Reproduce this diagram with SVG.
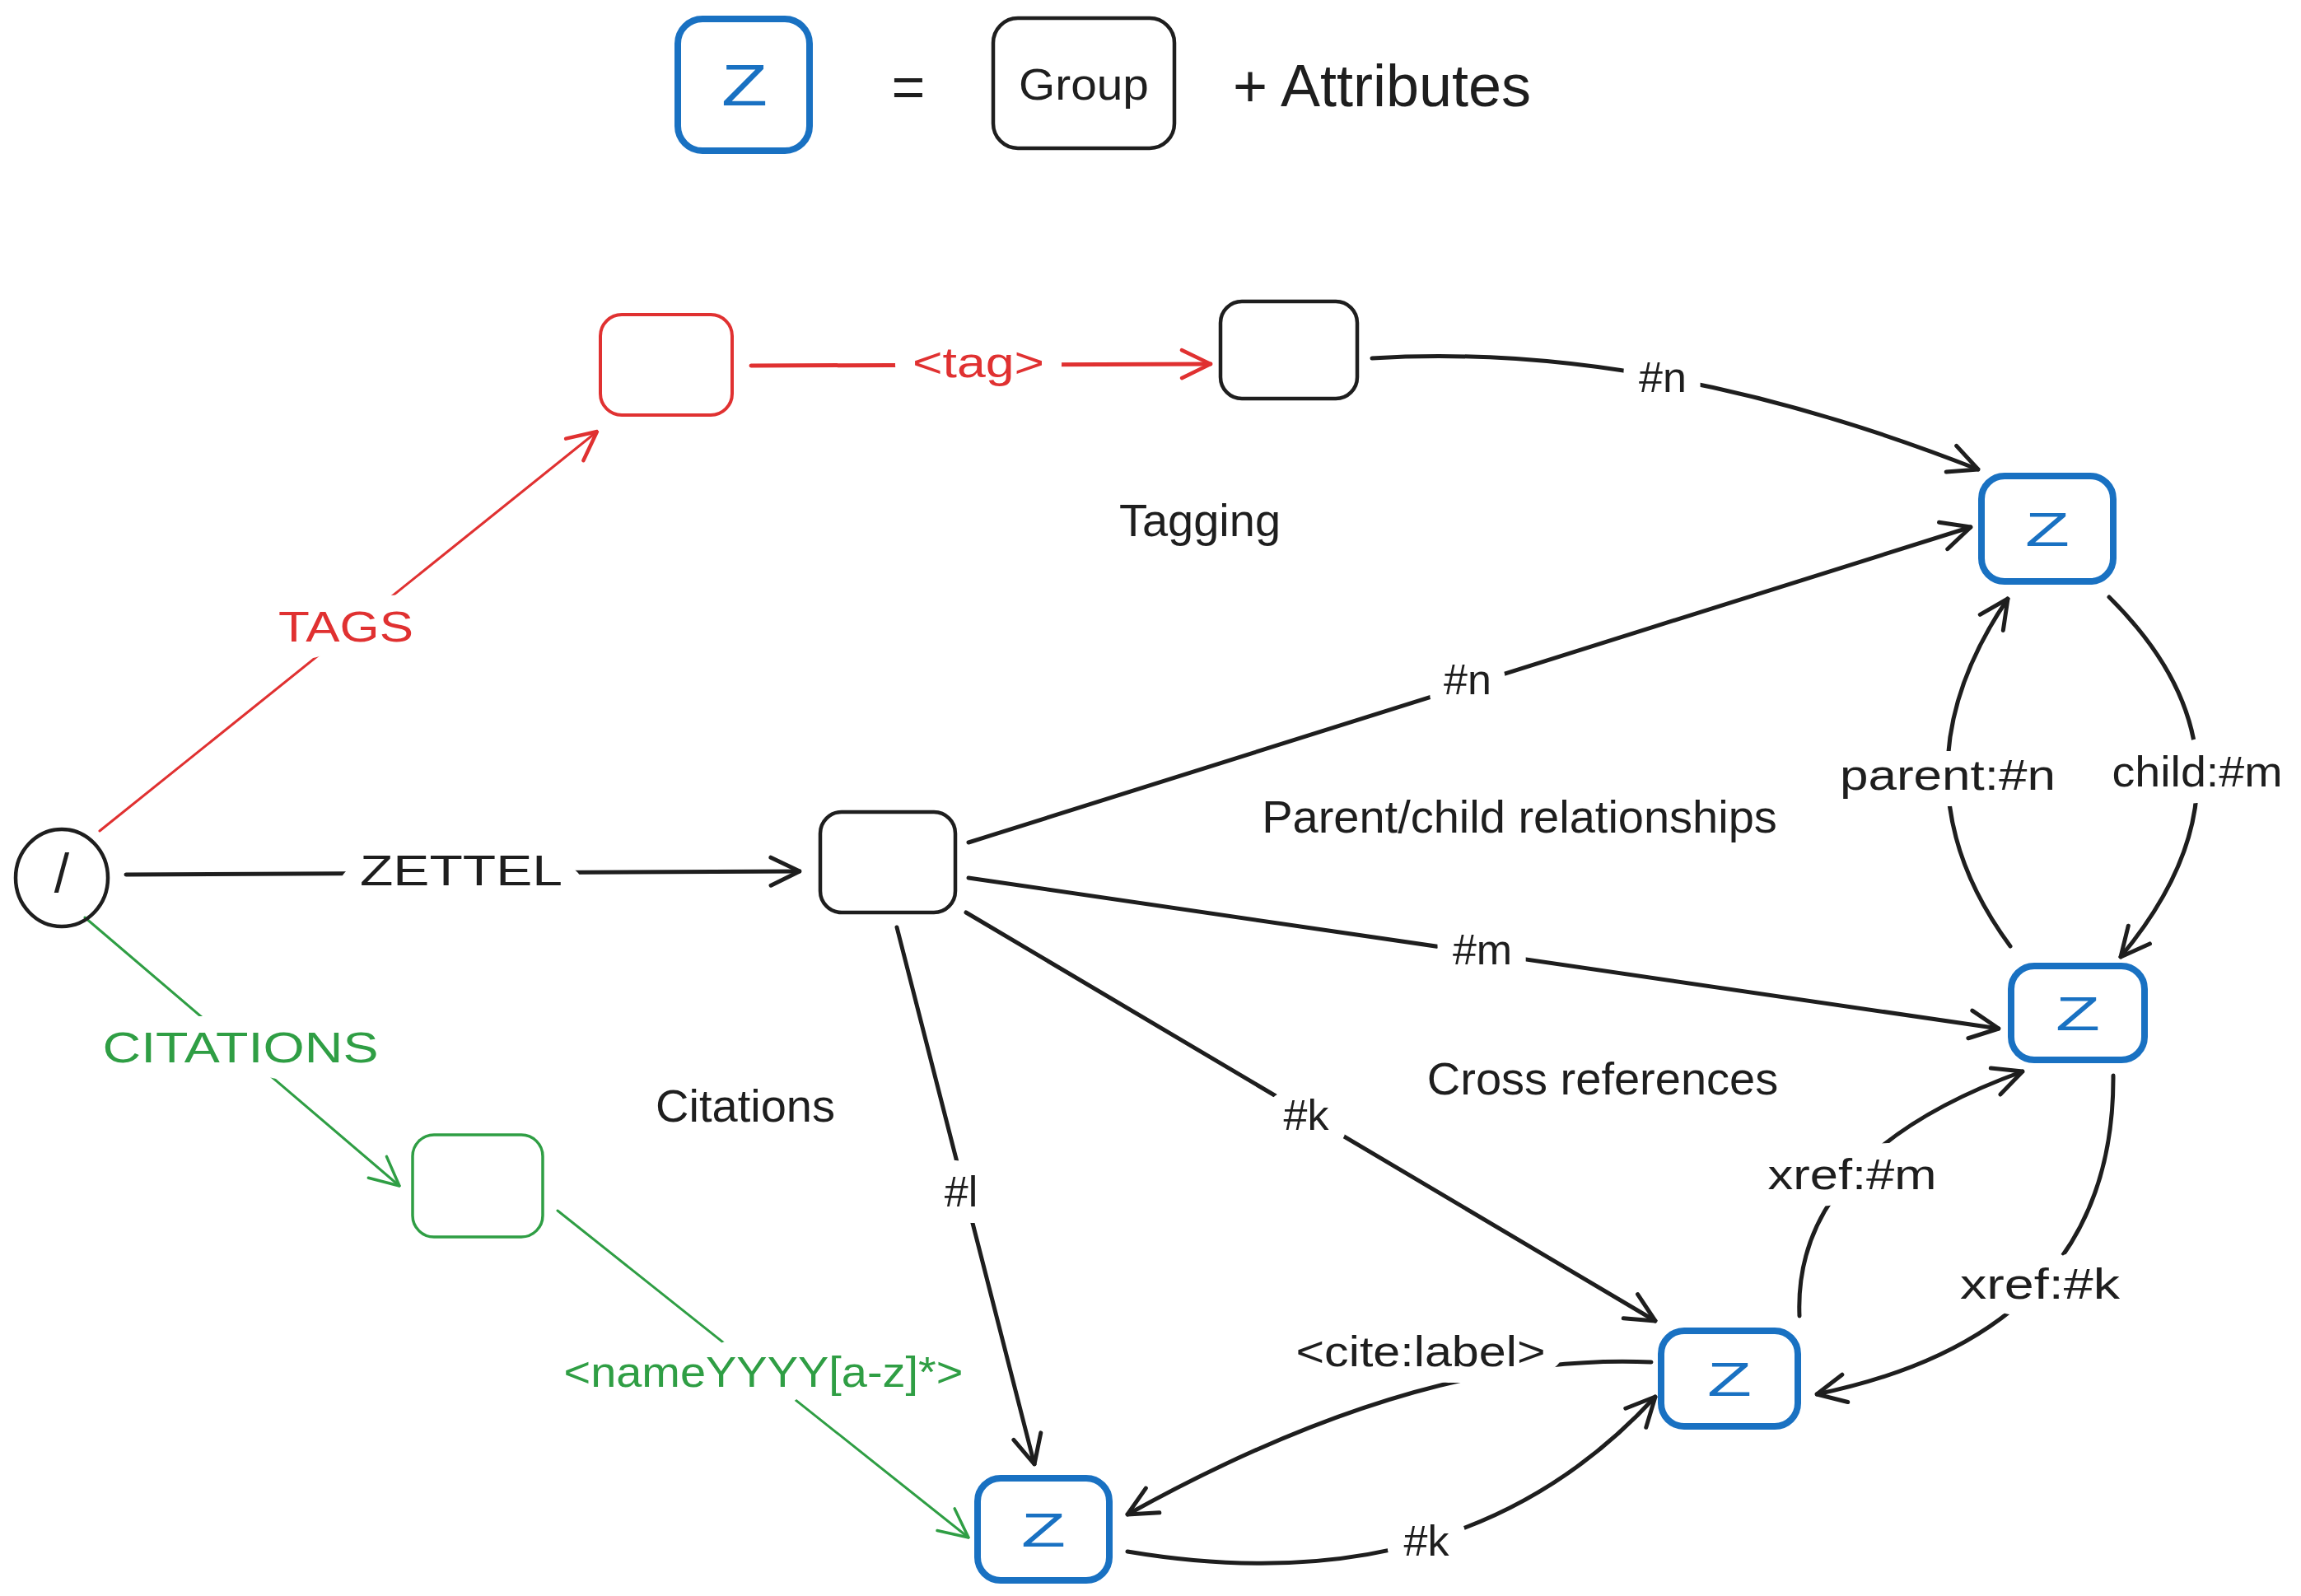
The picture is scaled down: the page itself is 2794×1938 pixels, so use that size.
<svg xmlns="http://www.w3.org/2000/svg" width="2794" height="1938" viewBox="0 0 2794 1938">
<style>
.bg{fill:#ffffff}
.box{fill:none;stroke:#1e1e1e;stroke-width:4.5}
.zbox{fill:none;stroke:#1971c2;stroke-width:8}
.rbox{fill:none;stroke:#e03131;stroke-width:4}
.gbox{fill:none;stroke:#2f9e44;stroke-width:3.5}
.z{font-family:"Liberation Sans",Arial,sans-serif;font-size:58px;fill:#1971c2;text-anchor:middle;dominant-baseline:central}
.plain{font-family:"Liberation Sans",Arial,sans-serif;font-size:56px;fill:#1e1e1e;text-anchor:middle;dominant-baseline:central}
.lbl{font-family:"Liberation Sans",Arial,sans-serif;font-size:52px;fill:#1e1e1e;text-anchor:middle;dominant-baseline:central;stroke:#ffffff;stroke-width:40px;paint-order:stroke;stroke-linejoin:round}
.red{fill:#e03131}
.green{fill:#2f9e44}
.e{fill:none;stroke:#1e1e1e;stroke-width:5;stroke-linecap:round}
.er{fill:none;stroke:#e03131;stroke-linecap:round}
.eg{fill:none;stroke:#2f9e44;stroke-width:3;stroke-linecap:round}
</style>
<defs>
<marker id="ak" viewBox="0 0 40 40" refX="38" refY="20" markerWidth="40" markerHeight="40" markerUnits="userSpaceOnUse" orient="auto">
<path d="M3,3 L38,20 L3,37" fill="none" stroke="#1e1e1e" stroke-width="5" stroke-linecap="round" stroke-linejoin="round"/>
</marker>
<marker id="ar" viewBox="0 0 40 40" refX="38" refY="20" markerWidth="40" markerHeight="40" markerUnits="userSpaceOnUse" orient="auto">
<path d="M3,3 L38,20 L3,37" fill="none" stroke="#e03131" stroke-width="4.5" stroke-linecap="round" stroke-linejoin="round"/>
</marker>
<marker id="ag" viewBox="0 0 40 40" refX="38" refY="20" markerWidth="40" markerHeight="40" markerUnits="userSpaceOnUse" orient="auto">
<path d="M3,3 L38,20 L3,37" fill="none" stroke="#2f9e44" stroke-width="3.5" stroke-linecap="round" stroke-linejoin="round"/>
</marker>
</defs>
<rect class="bg" x="0" y="0" width="2794" height="1938"/>

<g id="legend">
<rect class="zbox" x="823" y="23" width="160" height="160" rx="30"/>
<text class="z" x="904" y="104" style="font-size:70px" textLength="56" lengthAdjust="spacingAndGlyphs">Z</text>
<text class="plain" x="1103" y="106" style="font-size:70px">=</text>
<rect class="box" x="1206" y="22" width="220" height="158" rx="30"/>
<text class="plain" x="1316" y="102" style="font-size:54px" textLength="158" lengthAdjust="spacingAndGlyphs">Group</text>
<text class="plain" x="1678" y="104" style="font-size:72px">+ Attributes</text>
</g>

<g id="section-labels">
<text class="plain" x="1457" y="631">Tagging</text>
<text class="plain" x="1845" y="991">Parent/child relationships</text>
<text class="plain" x="1946" y="1309">Cross references</text>
<text class="plain" x="905" y="1342">Citations</text>
</g>

<g id="connectors">
<path class="er" stroke-width="3" d="M121,1009 L725,524" marker-end="url(#ar)"/>
<path class="er" stroke-width="5" d="M912,444 L1470,442" marker-end="url(#ar)"/>
<path class="e" d="M1666,435 Q2005,414 2402,570" marker-end="url(#ak)"/>
<path class="e" d="M1176,1023 L2393,640" marker-end="url(#ak)"/>
<path class="e" d="M1176,1066 L2427,1249" marker-end="url(#ak)"/>
<path class="e" d="M1173,1108 L2010,1604" marker-end="url(#ak)"/>
<path class="e" d="M1089,1126 L1256,1778" marker-end="url(#ak)"/>
<path class="e" d="M153,1062 L971,1058" marker-end="url(#ak)"/>
<path class="eg" d="M103,1114 L485,1440" marker-end="url(#ag)"/>
<path class="eg" d="M677,1470 L1176,1867" marker-end="url(#ag)"/>
<path class="e" d="M2561,725 Q2768,930 2575,1162" marker-end="url(#ak)"/>
<path class="e" d="M2441,1149 Q2290,944 2438,727" marker-end="url(#ak)"/>
<path class="e" d="M2185,1598 Q2177,1402 2456,1301" marker-end="url(#ak)"/>
<path class="e" d="M2566,1306 Q2568,1618 2206,1693" marker-end="url(#ak)"/>
<path class="e" d="M2005,1654 Q1725,1641 1369,1839" marker-end="url(#ak)"/>
<path class="e" d="M1369,1884 Q1774,1952 2010,1696" marker-end="url(#ak)"/>
<text class="lbl red" x="420" y="761" textLength="164" lengthAdjust="spacingAndGlyphs">TAGS</text>
<text class="lbl red" x="1188" y="440" textLength="160" lengthAdjust="spacingAndGlyphs">&lt;tag&gt;</text>
<text class="lbl" x="2019" y="458">#n</text>
<text class="lbl" x="1782" y="825">#n</text>
<text class="lbl" x="560" y="1057" textLength="246" lengthAdjust="spacingAndGlyphs">ZETTEL</text>
<text class="lbl" x="1800" y="1153">#m</text>
<text class="lbl" x="2365" y="941" textLength="262" lengthAdjust="spacingAndGlyphs">parent:#n</text>
<text class="lbl" x="2668" y="937" textLength="207" lengthAdjust="spacingAndGlyphs">child:#m</text>
<text class="lbl green" x="292" y="1272" textLength="335" lengthAdjust="spacingAndGlyphs">CITATIONS</text>
<text class="lbl" x="1586" y="1354">#k</text>
<text class="lbl" x="1167" y="1447">#l</text>
<text class="lbl" x="2249" y="1426" textLength="205" lengthAdjust="spacingAndGlyphs">xref:#m</text>
<text class="lbl" x="2477" y="1559" textLength="194" lengthAdjust="spacingAndGlyphs">xref:#k</text>
<text class="lbl green" x="927" y="1666" textLength="485" lengthAdjust="spacingAndGlyphs">&lt;nameYYYY[a-z]*&gt;</text>
<text class="lbl" x="1725" y="1641" textLength="303" lengthAdjust="spacingAndGlyphs">&lt;cite:label&gt;</text>
<text class="lbl" x="1732" y="1871">#k</text>
</g>

<g id="root">
<ellipse cx="75" cy="1066" rx="56" ry="59" fill="none" stroke="#1e1e1e" stroke-width="4.5"/>
<text class="plain" x="75" y="1060" style="font-size:66px">/</text>
</g>
<g id="tags-group"><rect class="rbox" x="729" y="382" width="160" height="122" rx="26"/></g>
<g id="tag-group"><rect class="box" x="1482" y="366" width="166" height="118" rx="26"/></g>
<g id="zettel-group"><rect class="box" x="996" y="986" width="164" height="122" rx="26"/></g>
<g id="citations-group"><rect class="gbox" x="501" y="1378" width="158" height="124" rx="26"/></g>
<g id="z-top">
<rect class="zbox" x="2406" y="578" width="160" height="128" rx="28"/>
<text class="z" x="2486" y="642" textLength="54" lengthAdjust="spacingAndGlyphs">Z</text>
</g>
<g id="z-mid">
<rect class="zbox" x="2442" y="1173" width="162" height="114" rx="28"/>
<text class="z" x="2523" y="1230" textLength="54" lengthAdjust="spacingAndGlyphs">Z</text>
</g>
<g id="z-bottom-right">
<rect class="zbox" x="2017" y="1616" width="166" height="116" rx="28"/>
<text class="z" x="2100" y="1674" textLength="54" lengthAdjust="spacingAndGlyphs">Z</text>
</g>
<g id="z-bottom">
<rect class="zbox" x="1187" y="1795" width="160" height="124" rx="28"/>
<text class="z" x="1267" y="1857" textLength="54" lengthAdjust="spacingAndGlyphs">Z</text>
</g>
</svg>
